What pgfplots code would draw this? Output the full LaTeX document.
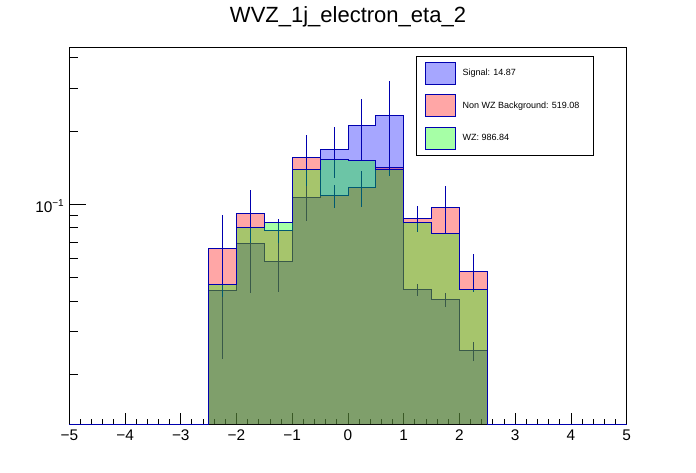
\documentclass[border=0pt]{standalone}
\usepackage{fontspec}
\setmainfont{Liberation Sans}
\usepackage{pgfplots}
\pgfplotsset{compat=1.18}
\definecolor{hline}{RGB}{0,0,175}
\definecolor{sigc}{RGB}{0,0,255}
\definecolor{bkgc}{RGB}{255,0,0}
\definecolor{wzc}{RGB}{0,255,0}
\begin{document}
\begin{tikzpicture}
\useasboundingbox (-69.3pt,-48pt) rectangle (626.7pt,424pt);
\begin{axis}[
  at={(0pt,0pt)}, anchor=south west,
  scale only axis, width=557.4pt, height=376.7pt,
  xmin=-5, xmax=5, ymode=log, ymin=0.01253, ymax=0.4414,
  axis line style={line width=0.9pt, black},
  tick style={black, line width=0.9pt},
  tick align=inside, tick pos=left,
  xtick={-5,-4,-3,-2,-1,0,1,2,3,4,5},
  xticklabels={−5,−4,−3,−2,−1,0,1,2,3,4,5},
  minor x tick num=4,
  ytick={0.1},
  yticklabels={{10\raisebox{5.5pt}{\fontsize{10}{10}\selectfont −1}}},
  minor ytick={0.02,0.03,0.04,0.05,0.06,0.07,0.08,0.09,0.2,0.3,0.4},
  xtick style={/pgfplots/major tick length=11pt, /pgfplots/minor tick length=5.5pt},
  ytick style={/pgfplots/major tick length=17pt, /pgfplots/minor tick length=8.5pt},
  xticklabel style={font=\fontsize{15.4}{16}\selectfont, anchor=north, inner sep=0pt, yshift=-6pt},
  yticklabel style={font=\fontsize{15.4}{16}\selectfont, anchor=base east, inner sep=0pt, xshift=-5.3pt, yshift=-7.7pt},
  title={WVZ\_1j\_electron\_eta\_2},
  title style={font=\fontsize{22}{26}\selectfont, at={(0.5,1)}, anchor=base, yshift=18.9pt, inner sep=0pt},
  legend style={at={(0.6228,0.9769)}, anchor=north west, draw=black, line width=0.9pt, fill=white,
    inner xsep=8pt, inner ysep=5.5pt, row sep=9.4pt, column sep=6.7pt,
    font=\fontsize{9}{10}\selectfont, cells={anchor=west}, nodes={inner sep=0pt}},
  legend cell align=left,
  legend image code/.code={\draw[#1] (0pt,-11pt) rectangle (30pt,11pt);},
]
% Signal
\addplot[const plot mark left, draw=hline, line width=1pt, fill=sigc, fill opacity=0.35]
 coordinates {(-5,0.01253) (-2.5,0.0443) (-2,0.0692) (-1.5,0.0583) (-1,0.1068) (-0.5,0.1682)
 (0,0.2110) (0.5,0.2320) (1,0.0445) (1.5,0.0407) (2,0.0250) (2.5,0.01253) (5,0.01253)};
\addlegendentry{Signal: 14.87}
\addplot[forget plot, draw=none, no markers, error bars/.cd, y dir=both, y explicit, error mark=none,
  error bar style={draw=hline, line width=1pt}]
 coordinates {(-2.25,0.0443) +- (0,0.0211) (-1.75,0.0692) +- (0,0.0258) (-1.25,0.0583) +- (0,0.0145)
 (-0.75,0.1068) +- (0,0.0212) (-0.25,0.1682) +- (0,0.0396) (0.25,0.2110) +- (0,0.059)
 (0.75,0.2320) +- (0,0.0888) (1.25,0.0445) +- (0,0.0025) (1.75,0.0407) +- (0,0.0027)
 (2.25,0.0250) +- (0,0.0022)};
% Non WZ background
\addplot[const plot mark left, draw=hline, line width=1pt, fill=bkgc, fill opacity=0.35]
 coordinates {(-5,0.01253) (-2.5,0.0660) (-2,0.0918) (-1.5,0.0782) (-1,0.1560) (-0.5,0.1085)
 (0,0.1174) (0.5,0.1419) (1,0.0876) (1.5,0.0975) (2,0.0531) (2.5,0.01253) (5,0.01253)};
\addlegendentry{Non WZ Background: 519.08\rule{6pt}{0pt}}
\addplot[forget plot, draw=none, no markers, error bars/.cd, y dir=both, y explicit, error mark=none,
  error bar style={draw=hline, line width=1pt}]
 coordinates {(-2.25,0.0660) +- (0,0.0244) (-1.75,0.0918) +- (0,0.0227) (-1.25,0.0782) +- (0,0.0086)
 (-0.75,0.1560) +- (0,0.0366) (-0.25,0.1085) +- (0,0.0115) (0.25,0.1174) +- (0,0.0196)
 (0.75,0.1419) +- (0,0.0112) (1.25,0.0876) +- (0,0.0108) (1.75,0.0975) +- (0,0.0214)
 (2.25,0.0531) +- (0,0.0096)};
% WZ
\addplot[const plot mark left, draw=hline, line width=1pt, fill=wzc, fill opacity=0.35]
 coordinates {(-5,0.01253) (-2.5,0.0469) (-2,0.0805) (-1.5,0.0844) (-1,0.1392) (-0.5,0.1530)
 (0,0.1520) (0.5,0.1392) (1,0.0844) (1.5,0.0760) (2,0.0448) (2.5,0.01253) (5,0.01253)};
\addlegendentry{WZ: 986.84}
\end{axis}
\end{tikzpicture}
\end{document}
